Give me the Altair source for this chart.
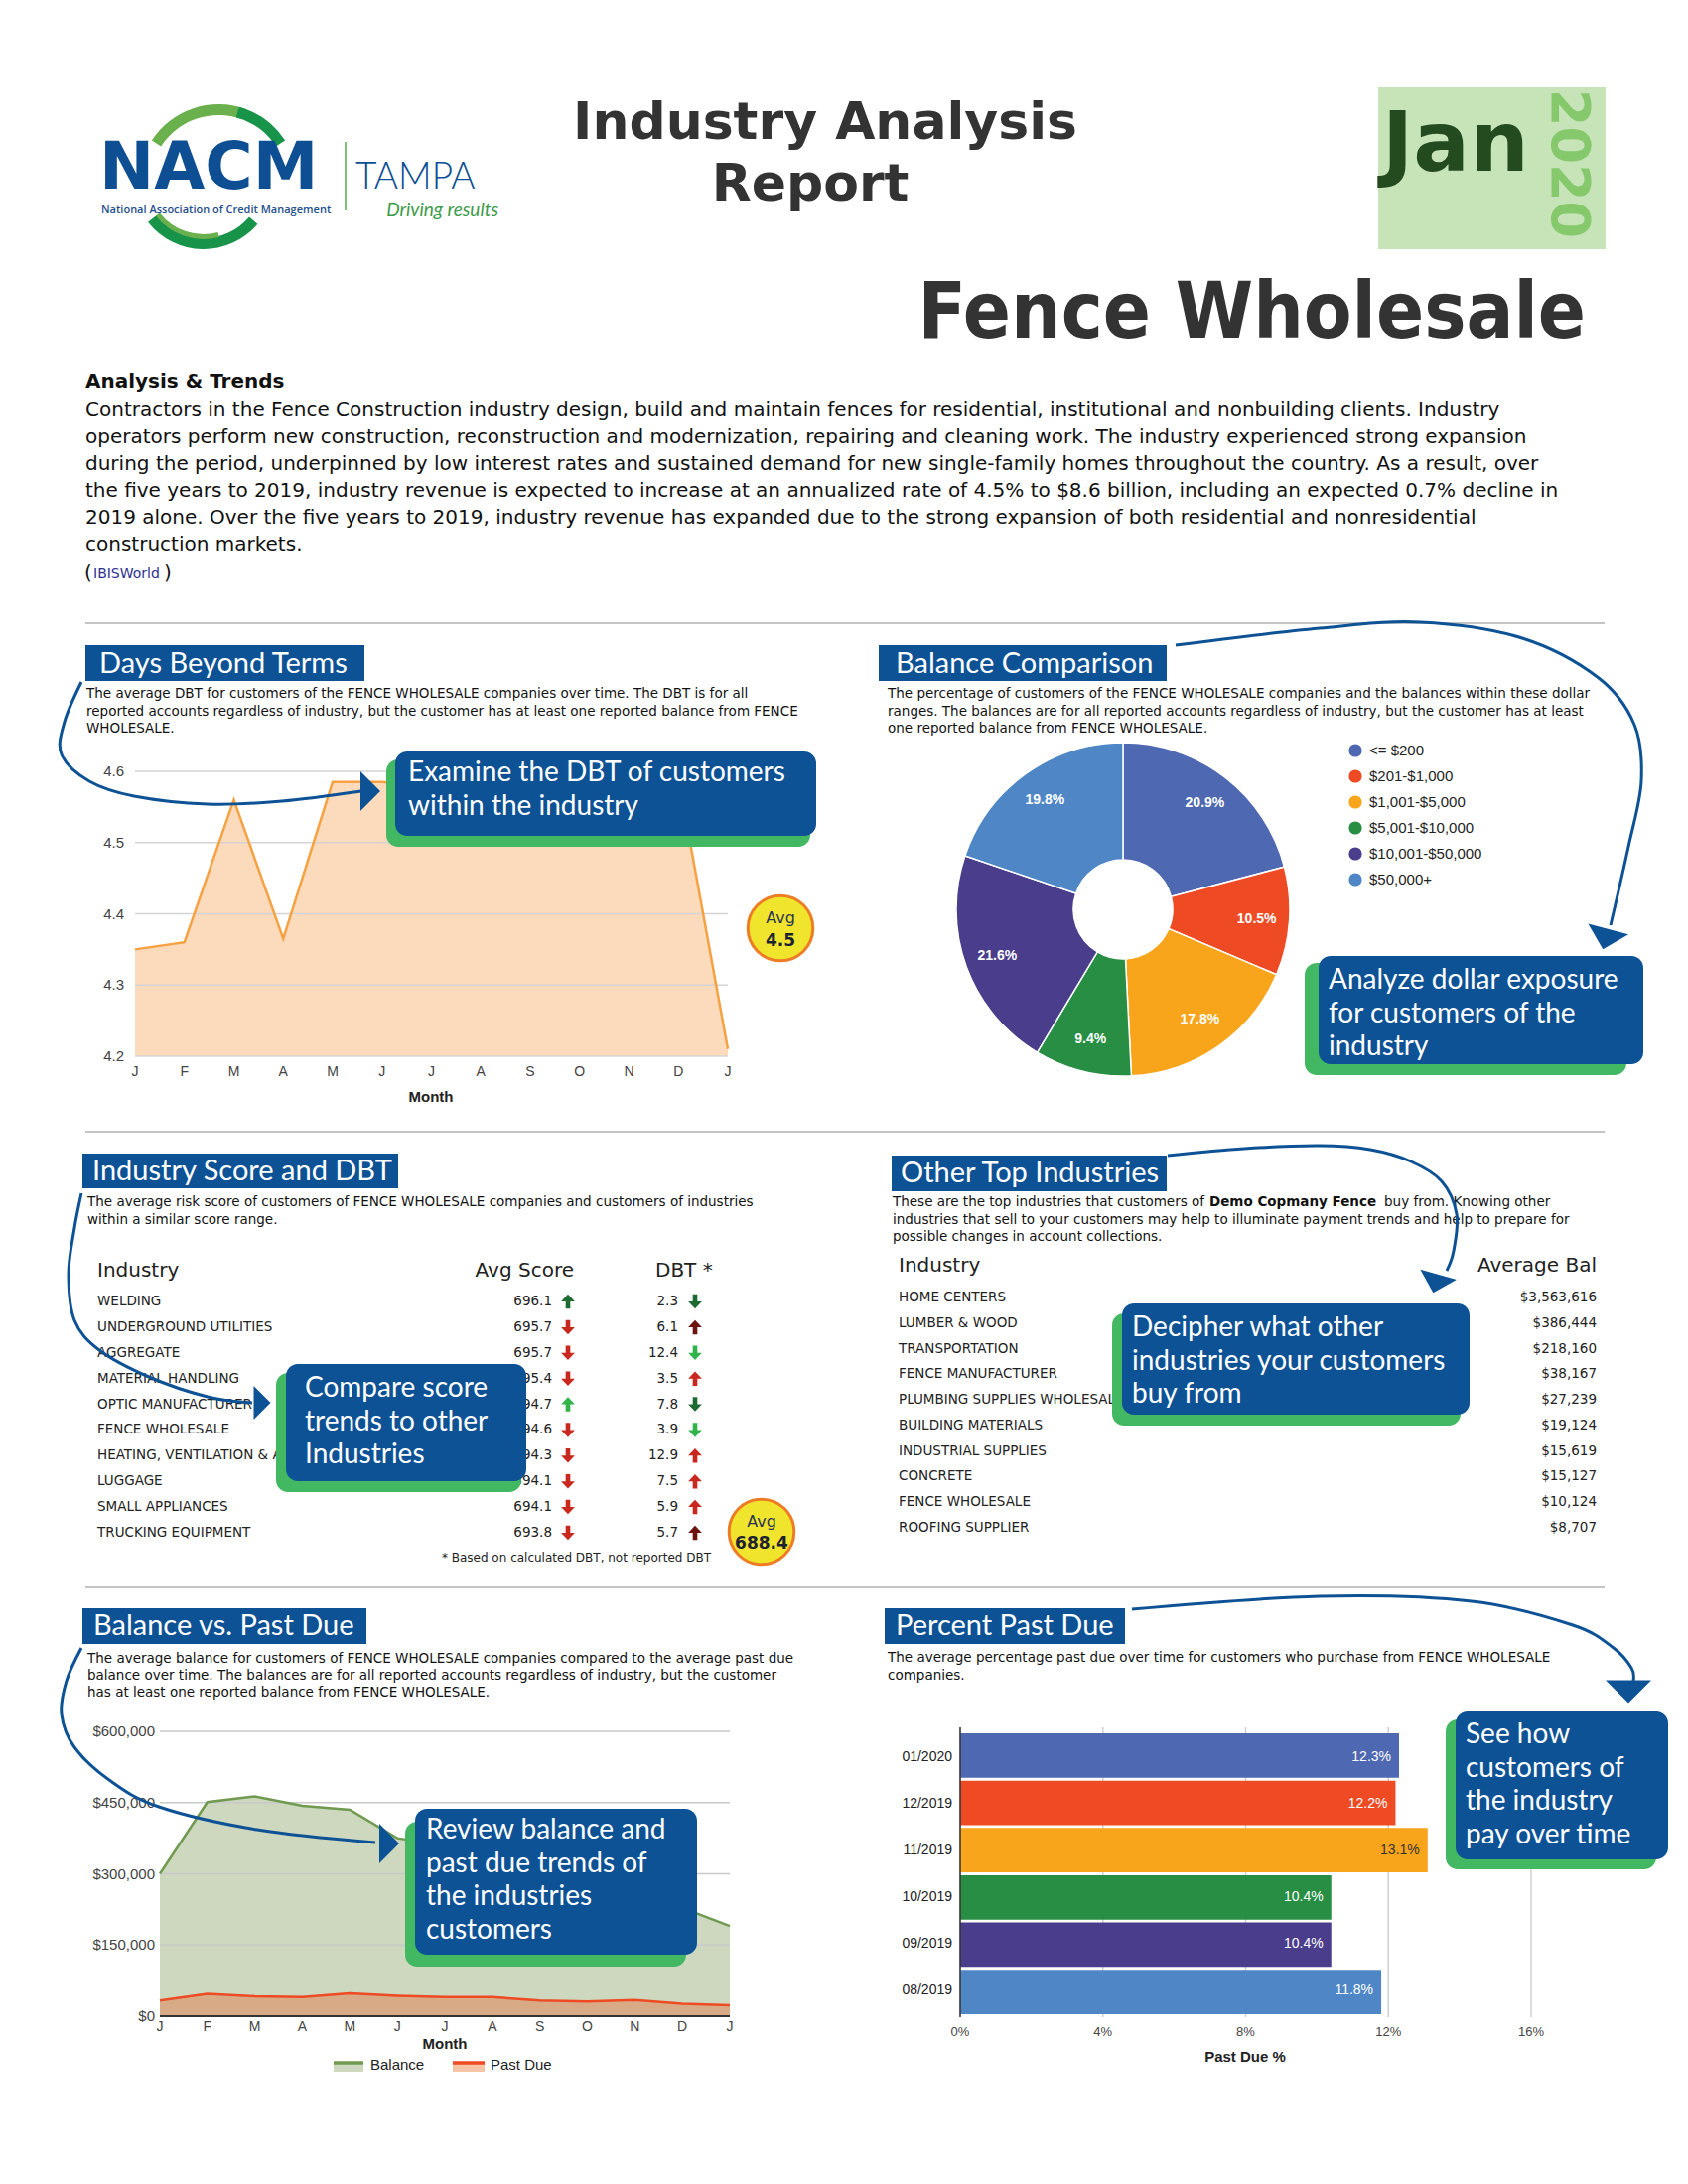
import math
import altair as alt
import pandas as pd

# ------------------------------------------------------------------ data
months = ["J", "F", "M", "A", "M", "J", "J", "A", "S", "O", "N", "D", "J"]
dbt_values = [4.35, 4.36, 4.56, 4.365, 4.585, 4.585, 4.58, 4.57, 4.59, 4.58, 4.575, 4.59, 4.21]
dbt_ticks = [4.2, 4.3, 4.4, 4.5, 4.6]
dbt_average = "4.5"

balance_ranges = ["<= $200", "$201-$1,000", "$1,001-$5,000", "$5,001-$10,000",
                  "$10,001-$50,000", "$50,000+"]
balance_shares = [20.9, 10.5, 17.8, 9.4, 21.6, 19.8]

score_industries = ["WELDING", "UNDERGROUND UTILITIES", "AGGREGATE", "MATERIAL HANDLING",
                    "OPTIC MANUFACTURER", "FENCE WHOLESALE",
                    "HEATING, VENTILATION & AIR CONDITIONING", "LUGGAGE",
                    "SMALL APPLIANCES", "TRUCKING EQUIPMENT"]
avg_scores = [696.1, 695.7, 695.7, 695.4, 694.7, 694.6, 694.3, 694.1, 694.1, 693.8]
score_trend = ["up", "down", "down", "down", "up", "down", "down", "down", "down", "down"]
score_signal = ["good+", "bad", "bad", "bad", "good", "bad", "bad", "bad", "bad", "bad"]
industry_dbt = [2.3, 6.1, 12.4, 3.5, 7.8, 3.9, 12.9, 7.5, 5.9, 5.7]
dbt_trend = ["down", "up", "down", "up", "down", "down", "up", "up", "up", "up"]
dbt_signal = ["good+", "bad+", "good", "bad", "good+", "good", "bad", "bad", "bad", "bad+"]
score_average = "688.4"

other_industries = ["HOME CENTERS", "LUMBER & WOOD", "TRANSPORTATION", "FENCE MANUFACTURER",
                    "PLUMBING SUPPLIES WHOLESALE", "BUILDING MATERIALS", "INDUSTRIAL SUPPLIES",
                    "CONCRETE", "FENCE WHOLESALE", "ROOFING SUPPLIER"]
other_avg_balance = [3563616, 386444, 218160, 38167, 27239, 19124, 15619, 15127, 10124, 8707]

balance_series = [300000, 451000, 463000, 443000, 435000, 375000, 360000, 345000,
                  320000, 290000, 262000, 228000, 190000]
past_due_series = [33000, 47000, 42000, 40000, 48000, 43000, 40000, 40000,
                   33000, 31000, 34000, 26000, 23000]
balance_ticks = [0, 150000, 300000, 450000, 600000]

pd_periods = ["01/2020", "12/2019", "11/2019", "10/2019", "09/2019", "08/2019"]
pd_percent = [12.3, 12.2, 13.1, 10.4, 10.4, 11.8]
pd_ticks = [0, 4, 8, 12, 16]

# ------------------------------------------------------------------ styles
W, H = 1684, 2184
M = 8
BLUE = "#0e5296"
GREEN = "#42b863"
PALETTE = ["#4e68b2", "#ee4a23", "#f8a51c", "#278e44", "#4a3d8b", "#4f87c6"]
BODY = "DejaVu Sans"
AX = "Liberation Sans"
HEAD = "Lato"
UP_PATH = "M0,-1L0.95,0L0.32,0L0.32,1L-0.32,1L-0.32,0L-0.95,0Z"
DOWN_PATH = "M0,1L0.95,0L0.32,0L0.32,-1L-0.32,-1L-0.32,0L-0.95,0Z"


def P(v):
    return v - M


one = pd.DataFrame({"k": [0]})


def text(s, x, y, size=13.5, color="#222", font=BODY, weight="normal", align="left",
         baseline="middle", angle=None, style=None, lh=None):
    kw = dict(text=s, fontSize=size, color=color, font=font, fontWeight=weight,
              align=align, baseline=baseline)
    if angle is not None:
        kw["angle"] = angle
    if style:
        kw["fontStyle"] = style
    if lh:
        kw["lineHeight"] = lh
    return alt.Chart(one).mark_text(**kw).encode(x=alt.value(P(x)), y=alt.value(P(y)))


def box(x1, y1, x2, y2, color, r=0):
    return alt.Chart(one).mark_rect(color=color, cornerRadius=r).encode(
        x=alt.value(P(x1)), x2=alt.value(P(x2)), y=alt.value(P(y1)), y2=alt.value(P(y2)))


def hline(x1, x2, y, color, w):
    return alt.Chart(one).mark_rule(color=color, strokeWidth=w).encode(
        x=alt.value(P(x1)), x2=alt.value(P(x2)), y=alt.value(P(y)))


def vline(x, y1, y2, color, w):
    return alt.Chart(one).mark_rule(color=color, strokeWidth=w).encode(
        x=alt.value(P(x)), y=alt.value(P(y1)), y2=alt.value(P(y2)))


def arc(cx, cy, t1, t2, ro, ri, color):
    return alt.Chart(one).mark_arc(theta=math.radians(t1), theta2=math.radians(t2),
                                   outerRadius=ro, innerRadius=ri, color=color).encode(
        x=alt.value(P(cx)), y=alt.value(P(cy)))


def lin(domain, r0, r1):
    return alt.Scale(domain=domain, range=[P(r0), P(r1)], zero=False, nice=False)


def title_box(x1, y1, x2, y2, label, tx, ty):
    return [box(x1, y1, x2, y2, BLUE),
            text(label, tx, ty, size=29, color="white", font=HEAD, baseline="alphabetic")]


def callout(blue, green, lines, tx, ty):
    return [box(*green, GREEN, 12), box(*blue, BLUE, 12),
            text(lines, tx, ty, size=28, color="white", font=HEAD, baseline="alphabetic", lh=33.5)]


def badge(cx, cy, value, y1, y2):
    return [alt.Chart(one).mark_point(shape="circle", size=math.pi * 37 ** 2, filled=True,
                                      fill="#f0e52c", stroke="#ee7c24", strokeWidth=3,
                                      opacity=1, fillOpacity=1).encode(
                x=alt.value(P(cx)), y=alt.value(P(cy))),
            text("Avg", cx, y1, size=16, color="#2b3450", align="center"),
            text(value, cx, y2, size=17, weight="bold", color="#1d2233", align="center")]


HEAD_PATH = "M-0.5,-1L0.5,0L-0.5,1Z"


def head(cx, cy, angle, s):
    return alt.Chart(one).mark_point(shape=HEAD_PATH, size=(2 * s) ** 2, angle=angle,
                                     filled=True, color=BLUE, opacity=1, strokeWidth=0).encode(
        x=alt.value(P(cx)), y=alt.value(P(cy)))


L = []

# ------------------------------------------------------------------ header
L += [arc(220, 185, 303, 380, 80, 69, "#6ab04c"),
      arc(220, 185, 375, 417, 80, 69, "#17934a"),
      arc(205, 180, 130, 232, 71, 60, "#17934a"),
      arc(205, 180, 165, 232, 61, 56, "#6ab04c"),
      text("NACM", 100, 190, size=66, weight="bold", color="#0e4f94", baseline="alphabetic"),
      text("National Association of Credit Management", 102, 212, size=11, weight=600,
           color="#1f4f8d", font="Open Sans"),
      vline(348, 143, 212, "#5aaa4a", 1.5),
      text("TAMPA", 358, 190, size=37, weight=300, color="#0e4f94", font=HEAD,
           baseline="alphabetic"),
      text("Driving results", 502, 212, size=19, color="#3d9b48", font=HEAD, style="italic",
           align="right"),
      text("Industry Analysis", 831, 140, size=52, weight="bold", color="#333",
           align="center", baseline="alphabetic"),
      text("Report", 816, 202, size=52, weight="bold", color="#333", align="center",
           baseline="alphabetic"),
      box(1388, 88, 1617, 251, "#c6e4b8"),
      text("Jan", 1392, 172, size=84, weight="bold", color="#244a20", baseline="alphabetic"),
      text("2020", 1579, 165, size=54, weight="bold", color="#85c96c", align="center",
           angle=90),
      text("Fence Wholesale", 1597, 340, size=79, weight="bold", color="#333",
           font="'DejaVu Sans Condensed', Roboto", align="right", baseline="alphabetic")]

# ------------------------------------------------------------------ analysis text
L += [text("Analysis & Trends", 86, 385, size=20, weight="bold", color="#111"),
      text(["Contractors in the Fence Construction industry design, build and maintain fences for residential, institutional and nonbuilding clients. Industry",
            "operators perform new construction, reconstruction and modernization, repairing and cleaning work. The industry experienced strong expansion",
            "during the period, underpinned by low interest rates and sustained demand for new single-family homes throughout the country. As a result, over",
            "the five years to 2019, industry revenue is expected to increase at an annualized rate of 4.5% to $8.6 billion, including an expected 0.7% decline in",
            "2019 alone. Over the five years to 2019, industry revenue has expanded due to the strong expansion of both residential and nonresidential",
            "construction markets."],
           86, 419, size=20, color="#111", baseline="alphabetic", lh=27.2),
      text("(", 85, 577, size=20, color="#111"),
      text("IBISWorld", 94, 578, size=14, color="#2e3192"),
      text(")", 165, 577, size=20, color="#111")]

for yy in (628, 1140, 1599):
    L.append(hline(86, 1616, yy, "#c4c4c4", 2))

# ------------------------------------------------------------------ panel 1 : DBT
L += title_box(86, 650, 367, 686, "Days Beyond Terms", 100, 678)
L.append(text(["The average DBT for customers of the FENCE WHOLESALE companies over time. The DBT is for all",
               "reported accounts regardless of industry, but the customer has at least one reported balance from FENCE",
               "WHOLESALE."], 87, 703, size=13.5, color="#111", baseline="alphabetic", lh=17.5))

dbt_df = pd.DataFrame({"i": list(range(13)), "m": months, "v": dbt_values})
dxs = lin([0, 12], 136, 733)
dys = lin([4.2, 4.6], 1064, 777)
dtk = pd.DataFrame({"t": dbt_ticks})
L += [alt.Chart(dbt_df).mark_area(color="#fcdabc", opacity=1).encode(
          x=alt.X("i:Q", scale=dxs, axis=None), y=alt.Y("v:Q", scale=dys, axis=None),
          y2=alt.datum(4.2)),
      alt.Chart(dtk).mark_rule(color="#d4d4d4", strokeWidth=1.5).encode(
          y=alt.Y("t:Q", scale=dys, axis=None), x=alt.value(P(136)), x2=alt.value(P(733))),
      alt.Chart(dbt_df).mark_line(color="#f6a142", strokeWidth=2.5).encode(
          x=alt.X("i:Q", scale=dxs, axis=None), y=alt.Y("v:Q", scale=dys, axis=None)),
      alt.Chart(dtk).mark_text(align="right", baseline="middle", font=AX, fontSize=15,
                               color="#444").encode(
          y=alt.Y("t:Q", scale=dys, axis=None), x=alt.value(P(125)),
          text=alt.Text("t:Q", format=".1f")),
      alt.Chart(dbt_df).mark_text(align="center", baseline="middle", font=AX, fontSize=14,
                                  color="#444").encode(
          x=alt.X("i:Q", scale=dxs, axis=None), y=alt.value(P(1080)), text="m:N"),
      text("Month", 434, 1105, size=15, weight="bold", font=AX, align="center")]
L += badge(786, 935, dbt_average, 925, 948)

# ------------------------------------------------------------------ panel 2 : pie
L += title_box(885, 650, 1175, 686, "Balance Comparison", 902, 678)
L.append(text(["The percentage of customers of the FENCE WHOLESALE companies and the balances within these dollar",
               "ranges. The balances are for all reported accounts regardless of industry, but the customer has at least",
               "one reported balance from FENCE WHOLESALE."], 894, 703, size=13.5, color="#111",
              baseline="alphabetic", lh=17.5))
pie_df = pd.DataFrame({"k": list(range(6)), "cat": balance_ranges, "p": balance_shares,
                       "lbl": [f"{v}%" for v in balance_shares]})
pie_color = alt.Scale(domain=balance_ranges, range=PALETTE)
PCX, PCY = 1131, 916
L += [alt.Chart(pie_df).mark_arc(outerRadius=168, innerRadius=50, stroke="white",
                                 strokeWidth=1.5).encode(
          theta=alt.Theta("p:Q", stack=True), order=alt.Order("k:Q"),
          color=alt.Color("cat:N", scale=pie_color, legend=None),
          x=alt.value(P(PCX)), y=alt.value(P(PCY))),
      alt.Chart(pie_df).mark_text(radius=135, font=AX, fontSize=14, fontWeight="bold",
                                  color="white").encode(
          theta=alt.Theta("p:Q", stack=True), order=alt.Order("k:Q"), text="lbl:N",
          x=alt.value(P(PCX)), y=alt.value(P(PCY)))]
lg_y = lin([0, 5], 756, 886)
L += [alt.Chart(pie_df).mark_point(shape="circle", size=175, filled=True, opacity=1).encode(
          y=alt.Y("k:Q", scale=lg_y, axis=None), x=alt.value(P(1365)),
          color=alt.Color("cat:N", scale=pie_color, legend=None)),
      alt.Chart(pie_df).mark_text(align="left", baseline="middle", font=AX, fontSize=15,
                                  color="#222").encode(
          y=alt.Y("k:Q", scale=lg_y, axis=None), x=alt.value(P(1379)), text="cat:N")]

# ------------------------------------------------------------------ panel 3 : score table
L += title_box(83, 1162, 401, 1197, "Industry Score and DBT", 93, 1189)
L.append(text(["The average risk score of customers of FENCE WHOLESALE companies and customers of industries",
               "within a similar score range."], 88, 1215, size=13.5, color="#111",
              baseline="alphabetic", lh=17.5))
L += [text("Industry", 98, 1280, size=20),
      text("Avg Score", 578, 1280, size=20, align="right"),
      text("DBT *", 660, 1280, size=20)]
sig_scale = alt.Scale(domain=["good+", "good", "bad", "bad+"],
                      range=["#1d6b31", "#2fb34a", "#c8281e", "#6e1410"])
arrow_shape = alt.Scale(domain=["up", "down"], range=[UP_PATH, DOWN_PATH])
score_df = pd.DataFrame({
    "r": list(range(10)), "name": score_industries, "score": avg_scores,
    "sd": score_trend, "sc": score_signal,
    "dbt": industry_dbt, "dd": dbt_trend, "dc": dbt_signal})
ry = lin([0, 9], 1311, 1544)
L += [alt.Chart(score_df).mark_text(align="left", baseline="middle", font=BODY, fontSize=13.5,
                                    color="#222").encode(
          y=alt.Y("r:Q", scale=ry, axis=None), x=alt.value(P(98)), text="name:N"),
      alt.Chart(score_df).mark_text(align="right", baseline="middle", font=BODY, fontSize=13.5,
                                    color="#222").encode(
          y=alt.Y("r:Q", scale=ry, axis=None), x=alt.value(P(556)),
          text=alt.Text("score:Q", format=".1f")),
      alt.Chart(score_df).mark_point(filled=True, opacity=1, size=210, strokeWidth=0).encode(
          y=alt.Y("r:Q", scale=ry, axis=None), x=alt.value(P(572)),
          shape=alt.Shape("sd:N", scale=arrow_shape, legend=None),
          color=alt.Color("sc:N", scale=sig_scale, legend=None)),
      alt.Chart(score_df).mark_text(align="right", baseline="middle", font=BODY, fontSize=13.5,
                                    color="#222").encode(
          y=alt.Y("r:Q", scale=ry, axis=None), x=alt.value(P(683)),
          text=alt.Text("dbt:Q", format=".1f")),
      alt.Chart(score_df).mark_point(filled=True, opacity=1, size=210, strokeWidth=0).encode(
          y=alt.Y("r:Q", scale=ry, axis=None), x=alt.value(P(700)),
          shape=alt.Shape("dd:N", scale=arrow_shape, legend=None),
          color=alt.Color("dc:N", scale=sig_scale, legend=None)),
      text("* Based on calculated DBT, not reported DBT", 716, 1569, size=12, align="right")]
L += badge(767, 1543, score_average, 1533, 1555)

# ------------------------------------------------------------------ panel 4 : other industries
L += title_box(898, 1164, 1175, 1200, "Other Top Industries", 907, 1191)
L += [text("These are the top industries that customers of", 899, 1215, size=13.5, color="#111",
           baseline="alphabetic"),
      text("Demo Copmany Fence", 1218, 1215, size=13.5, color="#111", weight="bold",
           baseline="alphabetic"),
      text("buy from. Knowing other", 1394, 1215, size=13.5, color="#111",
           baseline="alphabetic"),
      text(["industries that sell to your customers may help to illuminate payment trends and help to prepare for",
            "possible changes in account collections."], 899, 1232.5, size=13.5, color="#111",
           baseline="alphabetic", lh=17.5),
      text("Industry", 905, 1275, size=20),
      text("Average Bal", 1608, 1275, size=20, align="right")]
oth_df = pd.DataFrame({"r": list(range(10)), "name": other_industries, "bal": other_avg_balance})
oy = lin([0, 9], 1307, 1539)
L += [alt.Chart(oth_df).mark_text(align="left", baseline="middle", font=BODY, fontSize=13.5,
                                  color="#222").encode(
          y=alt.Y("r:Q", scale=oy, axis=None), x=alt.value(P(905)), text="name:N"),
      alt.Chart(oth_df).mark_text(align="right", baseline="middle", font=BODY, fontSize=13.5,
                                  color="#222").encode(
          y=alt.Y("r:Q", scale=oy, axis=None), x=alt.value(P(1608)),
          text=alt.Text("bal:Q", format="$,.0f"))]

# ------------------------------------------------------------------ panel 5 : balance vs past due
L += title_box(83, 1620, 369, 1656, "Balance vs. Past Due", 94, 1647)
L.append(text(["The average balance for customers of FENCE WHOLESALE companies compared to the average past due",
               "balance over time. The balances are for all reported accounts regardless of industry, but the customer",
               "has at least one reported balance from FENCE WHOLESALE."], 88, 1675, size=13.5,
              color="#111", baseline="alphabetic", lh=17.2))
bal_df = pd.DataFrame({"i": list(range(13)), "m": months, "b": balance_series,
                       "pdue": past_due_series})
bxs = lin([0, 12], 161, 735)
bys = lin([0, 600000], 2031, 1744)
btk = pd.DataFrame({"t": balance_ticks})
L += [alt.Chart(bal_df).mark_area(color="#cdd8bf", opacity=1).encode(
          x=alt.X("i:Q", scale=bxs, axis=None), y=alt.Y("b:Q", scale=bys, axis=None),
          y2=alt.datum(0)),
      alt.Chart(btk).mark_rule(color="#c9c9c9", strokeWidth=1.5).encode(
          y=alt.Y("t:Q", scale=bys, axis=None), x=alt.value(P(161)), x2=alt.value(P(735))),
      alt.Chart(bal_df).mark_line(color="#6f9a4f", strokeWidth=2.5).encode(
          x=alt.X("i:Q", scale=bxs, axis=None), y=alt.Y("b:Q", scale=bys, axis=None)),
      alt.Chart(bal_df).mark_area(color="#d8aa86", opacity=1).encode(
          x=alt.X("i:Q", scale=bxs, axis=None), y=alt.Y("pdue:Q", scale=bys, axis=None),
          y2=alt.datum(0)),
      alt.Chart(bal_df).mark_line(color="#ee4a23", strokeWidth=2.5).encode(
          x=alt.X("i:Q", scale=bxs, axis=None), y=alt.Y("pdue:Q", scale=bys, axis=None)),
      hline(161, 735, 2031, "#333", 2),
      alt.Chart(btk).mark_text(align="right", baseline="middle", font=AX, fontSize=15,
                               color="#444").encode(
          y=alt.Y("t:Q", scale=bys, axis=None), x=alt.value(P(156)),
          text=alt.Text("t:Q", format="$,.0f")),
      alt.Chart(bal_df).mark_text(align="center", baseline="middle", font=AX, fontSize=14,
                                  color="#444").encode(
          x=alt.X("i:Q", scale=bxs, axis=None), y=alt.value(P(2042)), text="m:N"),
      text("Month", 448, 2059, size=15, weight="bold", font=AX, align="center"),
      box(336, 2079, 366, 2087, "#cdd8bf"), hline(336, 366, 2078, "#6f9a4f", 3.5),
      text("Balance", 373, 2080, size=15, font=AX),
      box(456, 2079, 488, 2087, "#f7c4a5"), hline(456, 488, 2078, "#ee4a23", 3.5),
      text("Past Due", 494, 2080, size=15, font=AX)]

# ------------------------------------------------------------------ panel 6 : percent past due
L += title_box(891, 1620, 1133, 1656, "Percent Past Due", 902, 1647)
L.append(text(["The average percentage past due over time for customers who purchase from FENCE WHOLESALE",
               "companies."], 894, 1674, size=13.5, color="#111", baseline="alphabetic", lh=17.5))
pd_df = pd.DataFrame({"per": pd_periods, "v": pd_percent,
                      "lbl": [f"{v}%" for v in pd_percent]})
pyb = alt.Scale(domain=pd_periods, range=[P(1746), P(2029)], paddingInner=0.06, paddingOuter=0)
pxs = lin([0, 16], 967, 1542)
ptk = pd.DataFrame({"t": pd_ticks, "lbl": [f"{t}%" for t in pd_ticks]})
L += [alt.Chart(ptk).mark_rule(color="#d0d0d0", strokeWidth=1.5).encode(
          x=alt.X("t:Q", scale=pxs, axis=None), y=alt.value(P(1740)), y2=alt.value(P(2032))),
      alt.Chart(pd_df).mark_bar(opacity=1).encode(
          y=alt.Y("per:N", scale=pyb, axis=None, sort=None),
          x=alt.X("v:Q", scale=pxs, axis=None), x2=alt.datum(0),
          color=alt.Color("per:N", scale=alt.Scale(domain=pd_periods, range=PALETTE),
                          legend=None)),
      vline(967, 1740, 2032, "#333", 1.5),
      alt.Chart(pd_df).mark_text(align="right", baseline="middle", dx=-8, font=AX,
                                 fontSize=14).encode(
          y=alt.Y("per:N", scale=pyb, axis=None, sort=None),
          x=alt.X("v:Q", scale=pxs, axis=None), text="lbl:N",
          color=alt.condition(alt.datum.v > 13, alt.value("#333"), alt.value("white"))),
      alt.Chart(pd_df).mark_text(align="right", baseline="middle", font=AX, fontSize=14,
                                 color="#222").encode(
          y=alt.Y("per:N", scale=pyb, axis=None, sort=None), x=alt.value(P(959)),
          text="per:N"),
      alt.Chart(ptk).mark_text(align="center", baseline="middle", font=AX, fontSize=13,
                               color="#444").encode(
          x=alt.X("t:Q", scale=pxs, axis=None), y=alt.value(P(2047)), text="lbl:N"),
      text("Past Due %", 1254, 2072, size=15, weight="bold", font=AX, align="center")]

# ------------------------------------------------------------------ callouts
L += callout((398, 757, 822, 842), (389, 765, 816, 853),
             ["Examine the DBT of customers", "within the industry"], 411, 787)
L += callout((1328, 963, 1655, 1072), (1314, 970, 1638, 1083),
             ["Analyze dollar exposure", "for customers of the", "industry"], 1338, 996)
L += callout((288, 1374, 530, 1492), (278, 1383, 525, 1503),
             ["Compare score", "trends to other", "Industries"], 307, 1407)
L += callout((1130, 1313, 1480, 1425), (1120, 1323, 1471, 1436),
             ["Decipher what other", "industries your customers", "buy from"], 1140, 1346)
L += callout((418, 1822, 702, 1969), (408, 1835, 691, 1981),
             ["Review balance and", "past due trends of", "the industries", "customers"], 429, 1852)
L += callout((1466, 1724, 1680, 1873), (1456, 1732, 1668, 1883),
             ["See how", "customers of", "the industry", "pay over time"], 1476, 1756)

# ------------------------------------------------------------------ arrows
curves = {
    1: [(82, 687), (65, 727), (62, 760), (90, 787), (135, 802), (209, 810), (284, 807), (364, 797)],
    2: [(1184, 650), (1329, 633), (1431, 627), (1533, 643), (1610, 683), (1646, 730),
        (1653, 787), (1640, 853), (1622, 932)],
    3: [(82, 1202), (75, 1237), (69, 1283), (75, 1330), (100, 1360), (150, 1387),
        (209, 1407), (254, 1413)],
    4: [(1176, 1164), (1253, 1157), (1329, 1154), (1380, 1158), (1421, 1170), (1452, 1190),
        (1467, 1223), (1464, 1260), (1457, 1280)],
    5: [(82, 1660), (67, 1693), (62, 1727), (75, 1760), (110, 1793), (160, 1820),
        (259, 1843), (378, 1856)],
    6: [(1140, 1621), (1329, 1608), (1482, 1613), (1584, 1637), (1625, 1660), (1643, 1680),
        (1645, 1693)],
}
rows = [{"id": k, "i": j, "x": P(x), "y": P(y)}
        for k, pts in curves.items() for j, (x, y) in enumerate(pts)]
canvas_x = alt.Scale(domain=[0, W], range=[0, W], zero=False, nice=False)
canvas_y = alt.Scale(domain=[0, H], range=[0, H], zero=False, nice=False)
L.append(alt.Chart(pd.DataFrame(rows)).mark_line(color=BLUE, strokeWidth=3,
                                                 interpolate="cardinal").encode(
    x=alt.X("x:Q", scale=canvas_x, axis=None), y=alt.Y("y:Q", scale=canvas_y, axis=None),
    detail="id:N", order="i:Q"))
L += [head(373, 797, 0, 20), head(1617, 946, 105, 21), head(264, 1413, 0, 17),
      head(1446, 1293, 106, 19), head(392, 1857, 0, 20), head(1640, 1704, 90, 23)]

chart = alt.layer(*L).resolve_scale(
    x="independent", y="independent", color="independent"
).properties(
    width=W, height=H, padding=0, background="white",
    autosize=alt.AutoSizeParams(type="none")
).configure_view(stroke=None)

chart.save("out.html", embed_options={"renderer": "svg", "actions": False})
